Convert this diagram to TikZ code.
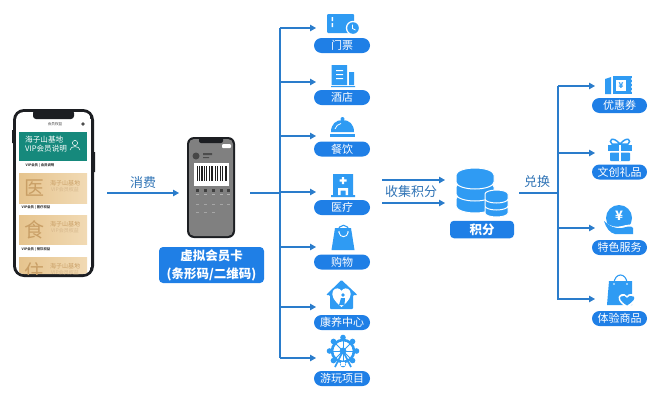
\documentclass[tikz,border=0pt]{standalone}
\usepackage{fontspec}
\setmainfont{Noto Sans CJK SC}
\usetikzlibrary{arrows.meta}
\definecolor{linec}{HTML}{2A7CCB}
\definecolor{iconc}{HTML}{2F9BF3}
\definecolor{pillc}{HTML}{1F7FE6}
\definecolor{labelc}{HTML}{2F73B5}
\definecolor{tealc}{HTML}{16897C}
\definecolor{goldL}{HTML}{E6C48E}
\definecolor{goldR}{HTML}{F1DAB4}
\definecolor{goldT}{HTML}{C99F66}
\definecolor{inkc}{HTML}{1C1E22}
\tikzset{
  pill/.style={fill=pillc,rounded corners=7.5pt,minimum width=56pt,minimum height=15pt,inner sep=0pt,text=white,font=\fontsize{11}{13}\selectfont},
  boxlabel/.style={fill=pillc,rounded corners=4pt,inner sep=0pt,text=white,font=\fontsize{12.5}{18}\selectfont\bfseries,align=center},
  flowlabel/.style={inner sep=0pt,text=labelc,font=\fontsize{13}{15}\selectfont},
  conn/.style={draw=linec,line width=1.1pt},
  arr/.style={conn,-{Triangle[length=6pt,width=6.5pt]}},
  ic/.style={fill=iconc,draw=none},
  wh/.style={fill=white,draw=none},
  tiny/.style={inner sep=0pt,font=\fontsize{3.4}{4}\selectfont\bfseries,text=black!75},
}
\newcommand{\cylseg}[5]{% cx, top, rx, ry, h
  \path[fill=iconc,draw=white,line width=1pt] (#1-#3,#2) -- (#1-#3,#2+#5) arc[start angle=180,end angle=360,x radius=#3pt,y radius=#4pt] -- (#1+#3,#2) arc[start angle=0,end angle=180,x radius=#3pt,y radius=#4pt] -- cycle;}
\newcommand{\goldcard}[5]{% top, bottom, char, charY, textY
  \shade[left color=goldL,right color=goldR] (19,#1) rectangle (87,#2);
  \node[inner sep=0pt,text=goldT,font=\fontsize{20}{22}\selectfont] at (34,#4) {#3};
  \node[inner sep=0pt,text=goldT,font=\fontsize{6}{6.5}\selectfont] at (65,#5) {海子山基地};
  \node[inner sep=0pt,text=goldT!75,font=\fontsize{5}{5.5}\selectfont] at (65,#5+7) {VIP会员权益};}
\begin{document}
\begin{tikzpicture}[x=1pt,y=-1pt]
\useasboundingbox (0,0) rectangle (660,402);
% ---- first phone
\fill[inkc,rounded corners=11pt] (13,109) rectangle (94,277);
\fill[inkc] (12,130) rectangle (14,143) (93,152) rectangle (95,172);
\begin{scope}
  \clip[rounded corners=8pt] (16,112) rectangle (91,274);
  \fill[white] (16,112) rectangle (91,274);
  \fill[tealc] (19,132) rectangle (87,161);
  \goldcard{173}{203}{医}{188}{183}
  \goldcard{215}{244}{食}{230}{224}
  \goldcard{257}{290}{住}{272}{266}
\end{scope}
\fill[inkc,rounded corners=3pt] (33,110) rectangle (74,119);
\node[tiny,font=\fontsize{3.6}{4}\selectfont] (toptitle) at (55,124) {会员权益};
\fill[black!70] (83,124) circle[radius=1.8pt];
\node[inner sep=0pt,text=white,font=\fontsize{7.6}{8.6}\selectfont,align=left,anchor=west] (bannertext) at (25,144) {海子山基地\\VIP会员说明};
\draw[white,line width=.5pt] (75,143) circle[radius=2.6pt] (70,150) .. controls (70,145.5) and (80,145.5) .. (80,150);
\node[tiny] (cap0) at (40,166) {VIP会员 | 会员说明};
\node[tiny] (cap1) at (36,208) {VIP会员 | 医疗权益};
\node[tiny] (cap2) at (36,250) {VIP会员 | 餐饮权益};
% ---- second phone
\fill[inkc,rounded corners=7pt] (187,137) rectangle (235,238);
\fill[black!50,rounded corners=5pt] (189,139) rectangle (233,236);
\fill[inkc,rounded corners=2pt] (199,137) rectangle (223,143);
\fill[white,rounded corners=1pt] (222,144) rectangle (231,148);
\fill[black!72] (196,156) circle[radius=3.5pt];
\fill[black!70] (203,153) rectangle (212,155) (203,157) rectangle (209,158);
\fill[white] (194,163) rectangle (229,186);
\foreach \a/\w in {196.5/1.2,199/.7,201/1.6,204/.7,206/1.2,209/.7,211/2,214.5/.7,216.5/1.3,219.5/.7,221.5/1.6,224.5/.7,226/1}
  \fill[black!88] (\a,166) rectangle (\a+\w,181);
\foreach \a in {199,207,215,223,230}{
  \fill[black!75] (\a-3,189) rectangle (\a,192);
  \fill[black!30] (\a-3,194) rectangle (\a,195);
  \fill[black!35] (\a-3,204) rectangle (\a,205);}
\foreach \a in {199,207,215}\fill[black!35] (\a-3,212) rectangle (\a,213);
% ---- virtual card label
\node[boxlabel,minimum width=105pt,minimum height=36pt] (cardlabel) at (211.5,265) {虚拟会员卡\\(条形码/二维码)};
\coordinate (phoneout) at (107,193);
\coordinate (phonein) at (179,193);
\draw[arr] (phoneout) -- (phonein);
\node[flowlabel] (spend) at (143,183) {消费};
% ---- left trunk
\coordinate (cardout) at (250,193);
\coordinate (ta) at (280,28);
\coordinate (tb) at (280,358);
\coordinate (tj) at (280,193);
\draw[conn] (ta) -- (tb);
\draw[conn] (cardout) -- (tj);
\foreach \n/\y in {1/28,2/82,3/136,4/192,5/247,6/307,7/358}{
  \coordinate (a\n s) at (280,\y);
  \coordinate (a\n e) at (316,\y);
  \draw[arr] (a\n s) -- (a\n e);
}
% pills
\node[pill] (p1) at (342,45.5) {门票};
\node[pill] (p2) at (342,97.5) {酒店};
\node[pill] (p3) at (342,149) {餐饮};
\node[pill] (p4) at (342,207.5) {医疗};
\node[pill] (p5) at (342,262) {购物};
\node[pill] (p6) at (342,322.5) {康养中心};
\node[pill] (p7) at (342,378.5) {游玩项目};
% ticket
\fill[ic,rounded corners=1pt] (327,14) rectangle (354,33);
\fill[wh] (331.5,17) rectangle (333,21) (331.5,23) rectangle (333,27);
\fill[wh] (353,28) circle[radius=7.2pt];
\fill[ic] (353,28) circle[radius=5.8pt];
\draw[white,line width=.7pt] (352.5,24.5) -- (352.5,28.5) -- (355.5,30);
% hotel
\fill[ic] (331.5,65) rectangle (347,85) (349,72) rectangle (354,85) (331,86) rectangle (355,87);
\fill[wh] (336,70) rectangle (343,71.2) (336,74) rectangle (343,75.2) (336,78) rectangle (343,79.2);
% cloche
\fill[ic] (342.5,119) circle[radius=2pt];
\fill[ic] (331,132) .. controls (331,124) and (336,120) .. (342.5,120) .. controls (349,120) and (354,124) .. (354,132) -- cycle;
\fill[ic] (330,134) rectangle (355,137);
\draw[white,line width=.8pt] (335,129) .. controls (336,126) and (338,124) .. (341,123.5);
% hospital
\fill[ic] (333,174) rectangle (353,195) (331,195) rectangle (355,197);
\fill[wh] (341.8,177) rectangle (344.2,184) (339.5,179.3) rectangle (346.5,181.7);
\fill[wh] (338,195) -- (338,188) -- (348,188) -- (348,195) -- (345.5,195) -- (345.5,190.5) -- (340.5,190.5) -- (340.5,195) -- cycle;
% bag
\draw[iconc,line width=1.1pt] (338,232) .. controls (338,223) and (349,223) .. (349,232);
\fill[ic] (335,228) -- (351,228) -- (354.5,250) -- (331.5,250) -- cycle;
\draw[white,line width=.9pt] (339,232.5) .. controls (339.5,238) and (347.5,238) .. (348,232.5);
\fill[wh] (339,232) circle[radius=.9pt] (348,232) circle[radius=.9pt];
% house
\fill[ic,rounded corners=1pt] (341.5,280) -- (357.5,295) -- (353,295) -- (353,309) -- (330,309) -- (330,295) -- (326,295) -- cycle;
\fill[wh] (341.5,307) .. controls (333,300) and (331,295) .. (333,291) .. controls (335,287) and (340,288) .. (341.5,291) .. controls (343,288) and (348,287) .. (350,291) .. controls (352,295) and (350,300) .. (341.5,307) -- cycle;
\fill[ic] (343,295) circle[radius=1.8pt];
\fill[ic] (339,305) -- (341,298) -- (345,298) -- (344.5,305) -- cycle;
% wheel
\begin{scope}
  \draw[iconc,line width=2.6pt] (343,351) circle[radius=11pt];
  \foreach \a in {0,45,...,315}{
    \draw[iconc,line width=.9pt] (343,351) -- ++(\a:11pt);
    \fill[ic] (343,351) ++(\a:13.5pt) circle[radius=2.8pt];
  }
  \fill[ic] (343,351) circle[radius=3.4pt];
  \draw[iconc,line width=1.6pt] (343,351) -- (335,367) (343,351) -- (351,367);
  \fill[wh] (341,362) rectangle (345,366);
\end{scope}
% ---- points
\coordinate (c1s) at (382,180);
\coordinate (c1e) at (445,180);
\coordinate (c2s) at (382,203);
\coordinate (c2e) at (445,203);
\draw[arr] (c1s) -- (c1e);
\draw[arr] (c2s) -- (c2e);
\node[flowlabel] (collect) at (411,192) {收集积分};
\cylseg{475}{199}{19}{7}{7}
\cylseg{475}{187}{19}{7}{7}
\cylseg{475}{175}{19}{7}{7}
\cylseg{496.5}{208}{11.5}{4}{5}
\cylseg{496.5}{201}{11.5}{4}{5}
\cylseg{496.5}{194}{11.5}{4}{5}
\node[boxlabel,minimum width=64pt,minimum height=17.5pt] (points) at (482,229.5) {积分};
\node[flowlabel] (exchange) at (537,182) {兑换};
% ---- right trunk
\coordinate (rin) at (519,193);
\coordinate (ra) at (558,86);
\coordinate (rb) at (558,299.5);
\coordinate (rj) at (558,193);
\draw[conn] (ra) -- (rb);
\draw[conn] (rin) -- (rj);
\foreach \n/\y in {1/86,2/153,3/228,4/299}{
  \coordinate (b\n s) at (558,\y);
  \coordinate (b\n e) at (595,\y);
  \draw[arr] (b\n s) -- (b\n e);
}
\node[pill,minimum width=55pt] (q1) at (619.5,105.5) {优惠券};
\node[pill,minimum width=55pt] (q2) at (619.5,172) {文创礼品};
\node[pill,minimum width=55pt] (q3) at (619.5,247.5) {特色服务};
\node[pill,minimum width=55pt] (q4) at (619.5,318.5) {体验商品};
% coupon
\fill[ic] (605,79) -- (611,77) -- (611,94) -- (605,94) -- cycle;
\fill[ic] (613,76) -- (632,76) -- (632,94) -- (613,94) -- cycle;
\fill[wh] (616,80) rectangle (626,91);
\node[inner sep=0pt,text=iconc,font=\fontsize{8}{8}\selectfont\bfseries] (yen1) at (621,85.5) {¥};
\foreach \y in {79,83,87,91}\fill[wh] (632,\y) circle[radius=1.2pt];
% gift
\fill[ic] (608,145) rectangle (632,151);
\fill[ic,rounded corners=.8pt] (610,152.5) rectangle (630,161);
\fill[wh] (619,145) rectangle (621,161);
\draw[iconc,line width=1.5pt] (620,144) .. controls (612,135) and (608,141) .. (612,144) -- (620,144) .. controls (628,135) and (632,141) .. (628,144) -- (620,144);
% yen hand
\fill[ic] (619,218) circle[radius=13pt];
\node[inner sep=0pt,text=white,font=\fontsize{13}{13}\selectfont\bfseries] (yen2) at (619,216) {¥};
\fill[wh] (604,222) .. controls (610,226) and (616,228) .. (622,226) .. controls (626,225) and (630,224) .. (634,225) -- (634,236) -- (604,236) -- cycle;
\fill[ic] (604,221) .. controls (609,226) and (615,229) .. (622,228) .. controls (627,227) and (631,225) .. (633,228) -- (633,234) -- (615,234) .. controls (610,233) and (606,228) .. (604,221) -- cycle;
% bag with heart
\draw[iconc,line width=1.1pt] (614,284) .. controls (614,272) and (627,272) .. (627,284);
\fill[ic] (609,281) -- (632,281) -- (632,305) -- (607,305) -- cycle;
\fill[wh] (614,284) circle[radius=.9pt] (627,284) circle[radius=.9pt];
\fill[wh] (627,308) .. controls (618,302) and (617,297) .. (620,295) .. controls (623,293) and (626,294) .. (627,296) .. controls (628,294) and (632,293) .. (635,295) .. controls (638,297) and (636,303) .. (627,308) -- cycle;
\fill[ic] (627,305.5) .. controls (620,301) and (619,298) .. (621,296.5) .. controls (623,295) and (626,296) .. (627,298) .. controls (628,296) and (631,295) .. (633.5,296.5) .. controls (635.5,298) and (634,301) .. (627,305.5) -- cycle;
\end{tikzpicture}
\end{document}
